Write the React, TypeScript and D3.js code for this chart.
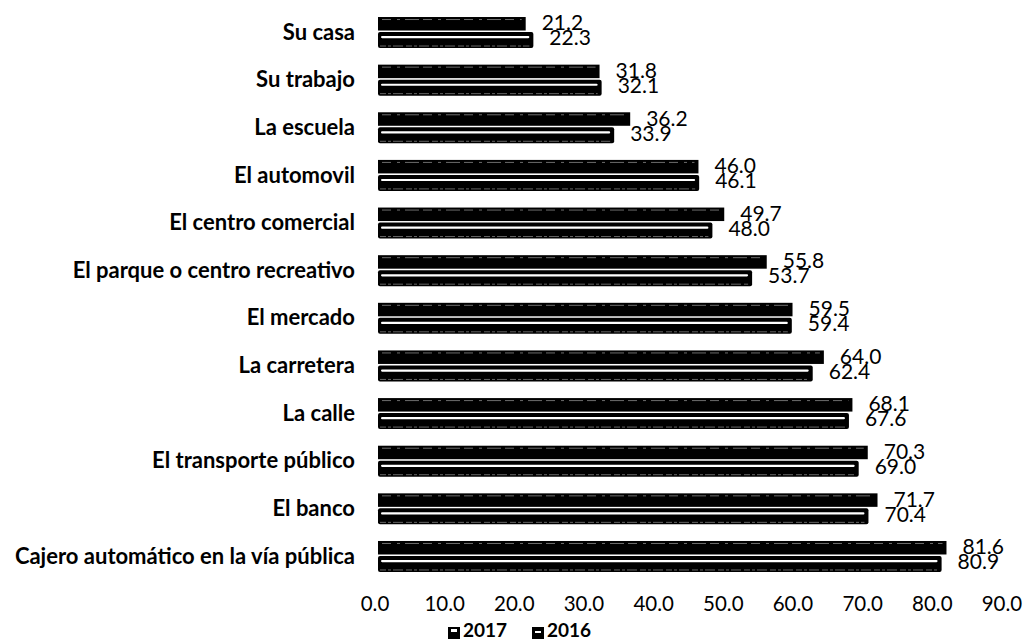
import React from "react";
import * as d3 from "d3";

const categories = [
  "Su casa",
  "Su trabajo",
  "La escuela",
  "El automovil",
  "El centro comercial",
  "El parque o centro recreativo",
  "El mercado",
  "La carretera",
  "La calle",
  "El transporte público",
  "El banco",
  "Cajero automático en la vía pública",
];
const values2017 = [21.2, 31.8, 36.2, 46.0, 49.7, 55.8, 59.5, 64.0, 68.1, 70.3, 71.7, 81.6];
const values2016 = [22.3, 32.1, 33.9, 46.1, 48.0, 53.7, 59.4, 62.4, 67.6, 69.0, 70.4, 80.9];
const xTicks = [0, 10, 20, 30, 40, 50, 60, 70, 80, 90];
const seriesNames = ["2017", "2016"];

const W = 1026;
const H = 641;
const FONT = "Lato, 'Open Sans', sans-serif";

export default function App() {
  const x = d3.scaleLinear().domain([0, 90]).range([378, 1005]);
  const y = d3
    .scaleBand<string>()
    .domain(categories)
    .range([9.2, 580.8])
    .padding(0);
  const bw = y.bandwidth();
  const x0 = x(0);

  return (
    <svg
      width={W}
      height={H}
      style={{ position: "absolute", left: 0, top: 0, background: "#fff" }}
      fontFamily={FONT}
    >
      <rect x={0} y={0} width={W} height={H} fill="#fff" />
      {categories.map((c, i) => {
        const cy = (y(c) as number) + bw / 2;
        const v17 = values2017[i];
        const v16 = values2016[i];
        const x17 = x(v17);
        const x16 = x(v16);
        return (
          <g key={c}>
            <text
              x={355}
              y={cy + 1}
              textAnchor="end"
              dominantBaseline="middle"
              fontWeight="bold"
              fontSize={22}
              fill="#000"
            >
              {c}
            </text>
            {/* 2017 bar */}
            <rect x={x0} y={cy - 16} width={x17 - x0} height={13.5} fill="#000" />
            <line
              x1={x0 + 4}
              x2={x17 - 4}
              y1={cy - 13.5}
              y2={cy - 13.5}
              stroke="#888"
              strokeWidth={0.8}
              strokeDasharray="9 6 3 5 14 4"
            />
            {/* 2016 bar */}
            <rect
              x={x0}
              y={cy - 1}
              width={x16 - x0}
              height={16}
              fill="#000"
              rx={2}
            />
            <rect
              x={x0 + 3}
              y={cy + 3}
              width={Math.max(0, x16 - x0 - 7)}
              height={2.2}
              fill="#fff"
              rx={1.1}
            />
            <line
              x1={x0 + 2}
              x2={x16 - 4}
              y1={cy + 13}
              y2={cy + 13}
              stroke="#666"
              strokeWidth={1}
              strokeDasharray="6 2 3 2 10 3"
            />
            <text
              x={x17 + 16}
              y={cy - 8}
              dominantBaseline="middle"
              fontSize={21}
              fill="#000"
            >
              {d3.format(".1f")(v17)}
            </text>
            <text
              x={x16 + 16}
              y={cy + 7}
              dominantBaseline="middle"
              fontSize={21}
              fill="#000"
            >
              {d3.format(".1f")(v16)}
            </text>
          </g>
        );
      })}
      {xTicks.map((t) => (
        <text
          key={t}
          x={x(t) - 3}
          y={606}
          textAnchor="middle"
          dominantBaseline="middle"
          fontSize={20.5}
          fill="#000"
        >
          {d3.format(".1f")(t)}
        </text>
      ))}
      <g fontWeight="bold" fontSize={19}>
        {seriesNames.map((s, i) => {
          const lx = 448 + i * 84;
          return (
            <g key={s}>
              <rect x={lx} y={627} width={12} height={12} fill="#000" />
              <rect
                x={lx + 3}
                y={i === 0 ? 629 : 631}
                width={6}
                height={i === 0 ? 3 : 2}
                fill="#fff"
              />
              <text x={lx + 15} y={632} dominantBaseline="middle" fill="#000">
                {s}
              </text>
            </g>
          );
        })}
      </g>
    </svg>
  );
}
